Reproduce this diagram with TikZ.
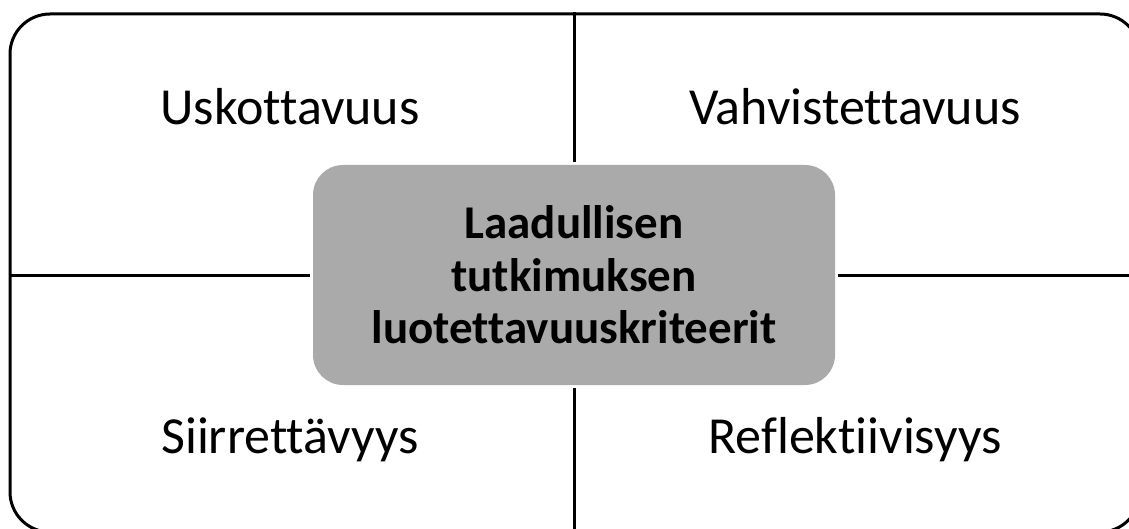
\documentclass[tikz,border=0pt]{standalone}
\usepackage{fontspec}
\setmainfont{Carlito}[Ligatures=NoCommon]
\usetikzlibrary{positioning}
\definecolor{boxgray}{HTML}{AAAAAA}
\tikzset{
    % outer frame of the four fields
    frame/.style={
           draw=black,
           line width=3pt,
           rounded corners=40pt,
           minimum width=1130pt,
           minimum height=518pt,
           inner sep=0pt},
    % centre box
    core/.style={
           fill=boxgray,
           rounded corners=30pt,
           minimum width=522pt,
           minimum height=220pt,
           inner sep=0pt,
           font=\fontsize{47}{52.5}\selectfont\bfseries,
           align=center},
    crit/.style={
           font=\fontsize{52}{62}\selectfont,
           anchor=base},
    % divider lines
    divider/.style={
           line width=3pt,
           shorten >=3pt}
}
\begin{document}
\begin{tikzpicture}[x=1pt,y=-1pt]
\useasboundingbox (0,0) rectangle (1129,529);
\clip (0,0) rectangle (1129,529);
\node[frame](frame) at (575,273){};
\node[core](centre) at (574,275){Laadullisen\\tutkimuksen\\luotettavuuskriteerit};
\node[crit](usk) at (290,125){Uskottavuus};
\node[crit](vah) at (855,125){Vahvistettavuus};
\node[crit](sii) at (290,453){Siirrettävyys};
\node[crit](ref) at (855,453){Reflektiivisyys};
\path[divider]
	(centre.north |- frame.north) edge (centre.north)
	(centre.south |- frame.south) edge (centre.south)
	(centre.west -| frame.west) edge (centre.west)
	(centre.east -| frame.east) edge (centre.east);
\end{tikzpicture}
\end{document}
